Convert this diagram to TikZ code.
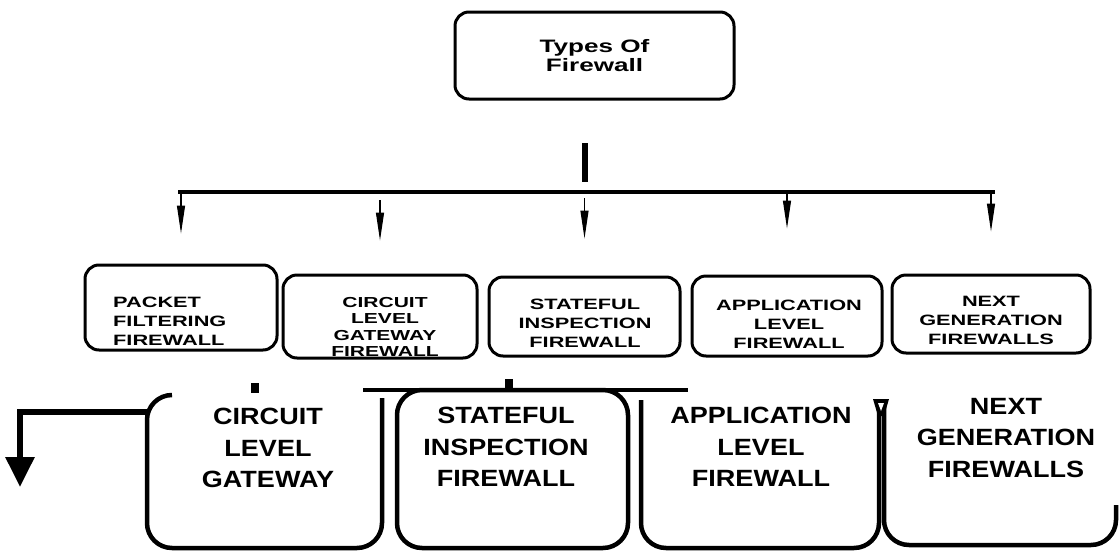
\documentclass[tikz,border=0pt]{standalone}
\usepackage{fontspec}
\setmainfont{Liberation Sans}
\newfontfamily\wideface[FakeStretch=1.45]{Liberation Sans}
\newfontfamily\bigface[FakeStretch=1.15]{Liberation Sans}
\usepackage{tikz}
\usetikzlibrary{arrows.meta, calc, positioning}

\begin{document}
\begin{tikzpicture}[
    x=1pt, y=-1pt,
    block/.style={rectangle, draw, line width=3pt, rounded corners=14pt},
    small/.style={font={\wideface\bfseries\fontsize{15}{19}\selectfont}, align=center, inner sep=0pt},
    big/.style={font={\bigface\bfseries\fontsize{23.5}{31.5}\selectfont}, align=center, inner sep=0pt},
    frame/.style={line width=4.5pt, rounded corners=25pt},
    arrow/.style={line width=1.2pt, -{Triangle[length=28pt, width=8pt]}},
    bigarrow/.style={line width=6pt, -{Triangle[length=30pt, width=28pt]}},
    bus/.style={line width=4pt}
]
\useasboundingbox (0,0) rectangle (1119,552);

\node[block, minimum width=279pt, minimum height=87pt,
      font={\wideface\bfseries\fontsize{18}{19}\selectfont}, align=center] (types) at (594.5,55.5) {Types Of\\Firewall};

\coordinate (stemtop) at (585,143);
\coordinate (stembot) at (585,182);
\draw[line width=6pt] (stemtop) -- (stembot);
\coordinate (busL) at (178,192);
\coordinate (busR) at (995,192);
\draw[bus] (busL) -- (busR);

% second row
\node[block, minimum width=192pt, minimum height=85pt] (pf) at (181,307.5) {};
\node[block, minimum width=194pt, minimum height=83pt] (cl) at (380,316.5) {};
\node[block, minimum width=191pt, minimum height=79pt] (st) at (584.5,316.5) {};
\node[block, minimum width=190pt, minimum height=80pt] (ap) at (787,316) {};
\node[block, minimum width=198pt, minimum height=78pt] (ng) at (991,314) {};

\node[small, align=left, anchor=west] (pftext) at (113,321) {PACKET\\FILTERING\\FIREWALL};
\node[small, font={\wideface\bfseries\fontsize{14.5}{16.3}\selectfont}] (cltext) at (385,327) {CIRCUIT\\LEVEL\\GATEWAY\\FIREWALL};
\node[small] (sttext) at (585,323) {STATEFUL\\INSPECTION\\FIREWALL};
\node[small] (aptext) at (789,324) {APPLICATION\\LEVEL\\FIREWALL};
\node[small] (ngtext) at (991,320) {NEXT\\GENERATION\\FIREWALLS};

\draw[arrow] (pf.north |- busL) -- ($(pf.north)+(0,-30)$);
\draw[arrow] ($(cl.north |- busL)+(0,8)$) -- ($(cl.north)+(0,-33)$);
\draw[arrow] ($(st.north |- busL)+(0,6)$) -- ($(st.north)+(0,-37)$);
\draw[arrow] (ap.north |- busL) -- ($(ap.north)+(0,-46)$);
\draw[arrow] (ng.north |- busL) -- ($(ng.north)+(0,-42)$);

% bottom row
\draw[frame] (172,395) -- (147,395) -- (147,548) -- (382,548) -- (382,398);
\draw[frame] (397,390) rectangle (628,548);
\draw[line width=4.5pt] (363,390) -- (688,390);
\draw[frame] (641,400) -- (641,548) -- (879,548) -- (879,400);
\draw[frame] (884,400) -- (884,545) -- (1116,545) -- (1116,505);
\fill (873,399) -- (889,399) -- (884,416) -- (878,416) -- cycle;
\fill[white] (878,403) -- (884,403) -- (881,411) -- cycle;
\fill (251,383) rectangle (259,393);
\fill (505,379) rectangle (513,390);

\coordinate (gwleft) at (147,412);
\coordinate (gwdown) at (20,487);
\draw[bigarrow] (gwleft) -| (gwdown);

\node[big] (cgw) at (268,448) {CIRCUIT\\LEVEL\\GATEWAY};
\node[big] (sif) at (506,447) {STATEFUL\\INSPECTION\\FIREWALL};
\node[big] (alf) at (761,447) {APPLICATION\\LEVEL\\FIREWALL};
\node[big] (ngf) at (1006,438) {NEXT\\GENERATION\\FIREWALLS};

\end{tikzpicture}
\end{document}
